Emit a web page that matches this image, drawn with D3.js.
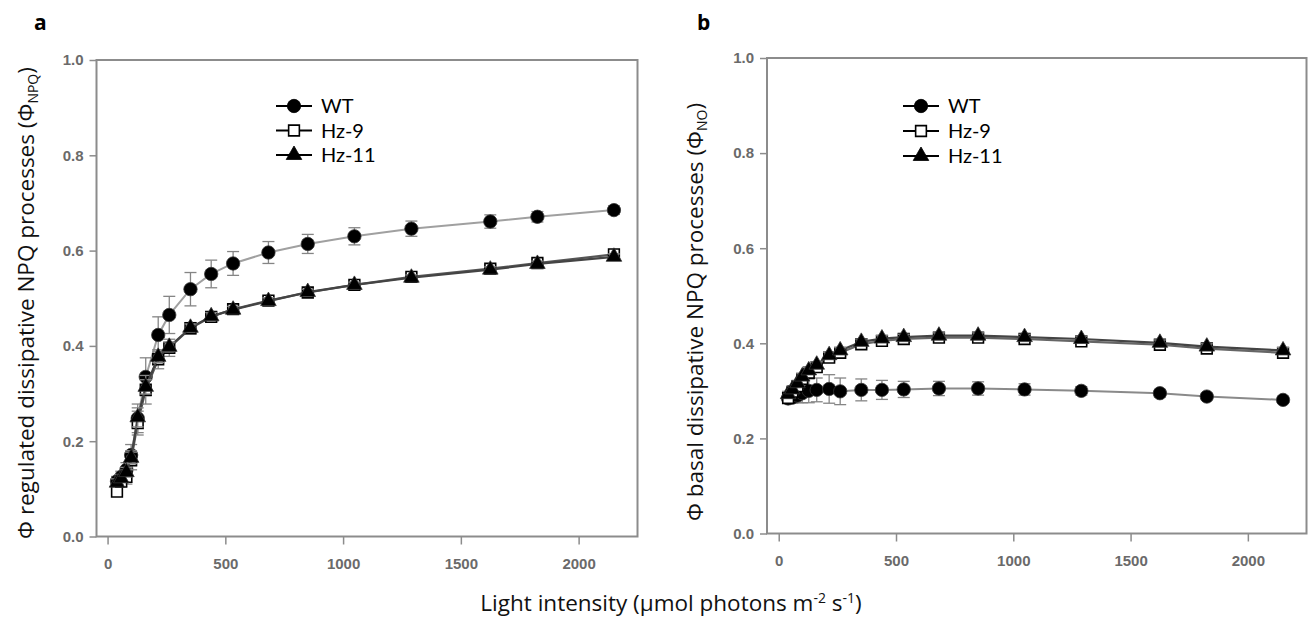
<!DOCTYPE html>
<html>
<head>
<meta charset="utf-8">
<script src="https://cdn.jsdelivr.net/npm/d3@7"></script>
<style>
  body { margin: 0; background: #fff; }
  .tick text { font-family: "Liberation Sans", Arial, sans-serif; font-size: 15px; font-weight: bold; fill: #6a6a6a; }
  .tick line { stroke: #8c8c8c; stroke-width: 1.5; }
  .domain { display: none; }
  .frame { fill: none; stroke: #8c8c8c; stroke-width: 2; }
  .title { font-family: "Open Sans", sans-serif; font-size: 22.5px; fill: #111; }
  .legend-text { font-family: Lato, "Open Sans", sans-serif; font-size: 20px; fill: #000; }
  .letter { font-family: "Open Sans", sans-serif; font-size: 21px; font-weight: bold; fill: #000; }
</style>
</head>
<body>
<svg id="chart" width="1310" height="620"></svg>
<script>
// light steps (µmol photons m-2 s-1), shared by both panels
const lightIntensity = [40, 58, 80, 100, 128, 162, 215, 262, 352, 440, 533, 683, 850, 1048, 1290, 1625, 1825, 2150];

// panel a: regulated NPQ yield
const wtNPQ      = [0.116, 0.125, 0.140, 0.171, 0.248, 0.335, 0.423, 0.465, 0.519, 0.551, 0.573, 0.596, 0.614, 0.630, 0.646, 0.661, 0.671, 0.685];
const wtNPQErr   = [0.010, 0.012, 0.015, 0.022, 0.030, 0.040, 0.038, 0.039, 0.035, 0.029, 0.025, 0.023, 0.020, 0.018, 0.016, 0.014, 0.011, 0.009];
const hz9NPQ     = [0.094, 0.115, 0.125, 0.160, 0.238, 0.308, 0.372, 0.396, 0.437, 0.461, 0.477, 0.495, 0.512, 0.528, 0.545, 0.562, 0.574, 0.592];
const hz9NPQErr  = [0.008, 0.010, 0.015, 0.020, 0.025, 0.030, 0.020, 0.018, 0.012, 0.010, 0.010, 0.009, 0.008, 0.008, 0.008, 0.008, 0.008, 0.008];
const hz11NPQ    = [0.113, 0.122, 0.135, 0.165, 0.250, 0.314, 0.377, 0.398, 0.438, 0.462, 0.476, 0.494, 0.513, 0.528, 0.543, 0.560, 0.572, 0.587];
const hz11NPQErr = [0.008, 0.008, 0.010, 0.012, 0.020, 0.015, 0.012, 0.010, 0.008, 0.008, 0.007, 0.007, 0.006, 0.006, 0.006, 0.006, 0.006, 0.006];

// panel b: basal (non-regulated) yield
const wtNO      = [0.284, 0.286, 0.290, 0.295, 0.300, 0.302, 0.304, 0.299, 0.302, 0.302, 0.303, 0.305, 0.305, 0.303, 0.300, 0.295, 0.288, 0.281];
const wtNOErr   = [0.010, 0.012, 0.015, 0.020, 0.025, 0.025, 0.030, 0.028, 0.023, 0.020, 0.017, 0.015, 0.014, 0.012, 0.009, 0.008, 0.007, 0.006];
const hz9NO     = [0.285, 0.298, 0.310, 0.325, 0.338, 0.350, 0.370, 0.380, 0.398, 0.405, 0.409, 0.412, 0.412, 0.409, 0.404, 0.397, 0.389, 0.380];
const hz9NOErr  = [0.007, 0.007, 0.007, 0.007, 0.007, 0.007, 0.007, 0.007, 0.007, 0.007, 0.007, 0.007, 0.007, 0.007, 0.007, 0.007, 0.007, 0.007];
const hz11NO    = [0.293, 0.303, 0.316, 0.330, 0.343, 0.355, 0.375, 0.385, 0.403, 0.410, 0.413, 0.416, 0.416, 0.413, 0.409, 0.401, 0.393, 0.385];
const hz11NOErr = [0.006, 0.006, 0.006, 0.006, 0.006, 0.006, 0.006, 0.006, 0.006, 0.006, 0.006, 0.006, 0.006, 0.006, 0.006, 0.006, 0.006, 0.006];

const seriesNames = ['WT', 'Hz-9', 'Hz-11'];
const xTicks = [0, 500, 1000, 1500, 2000];
const yTicks = [0, 0.2, 0.4, 0.6, 0.8, 1.0];

const svg = d3.select('#chart');

const symbolFor = {
    'WT':    d3.symbol().type(d3.symbolCircle).size(140),
    'Hz-9':  d3.symbol().type(d3.symbolSquare).size(115),
    'Hz-11': d3.symbol().type(d3.symbolTriangle).size(105)
};

const panels = [
    {
        letter: 'a', letterX: 34, letterY: 30,
        left: 96.5, right: 637.5, top: 60, bottom: 536.5, xMin: -47,
        titleX: 34, titleY: 303, titleText: 'Φ regulated dissipative NPQ processes (Φ', sub: 'NPQ',
        legendX: 294, legendTextX: 321, legendY: [106, 130.5, 155],
        series: [
            { name: 'WT', values: wtNPQ, errs: wtNPQErr, lineColor: '#a0a0a0', lineWidth: 2 },
            { name: 'Hz-9', values: hz9NPQ, errs: hz9NPQErr, lineColor: '#555', lineWidth: 2.2 },
            { name: 'Hz-11', values: hz11NPQ, errs: hz11NPQErr, lineColor: '#444', lineWidth: 2.2 }
        ]
    },
    {
        letter: 'b', letterX: 697, letterY: 30,
        left: 767, right: 1306.5, top: 58, bottom: 533.5, xMin: -50,
        titleX: 703, titleY: 312, titleText: 'Φ basal dissipative NPQ processes (Φ', sub: 'NO',
        legendX: 921, legendTextX: 948, legendY: [106, 131, 156],
        series: [
            { name: 'WT', values: wtNO, errs: wtNOErr, lineColor: '#8a8a8a', lineWidth: 2 },
            { name: 'Hz-9', values: hz9NO, errs: hz9NOErr, lineColor: '#666', lineWidth: 2.2 },
            { name: 'Hz-11', values: hz11NO, errs: hz11NOErr, lineColor: '#444', lineWidth: 2.2 }
        ]
    }
];

panels.forEach(p => drawPanel(p));

function drawPanel(p) {
    const x = d3.scaleLinear().domain([p.xMin, 2250]).range([p.left, p.right]);
    const y = d3.scaleLinear().domain([0, 1]).range([p.bottom, p.top]);
    const g = svg.append('g');

    g.append('g')
        .attr('transform', `translate(${p.left},0)`)
        .call(d3.axisLeft(y).tickValues(yTicks).tickFormat(d3.format('.1f')).tickSize(7).tickPadding(6));

    g.append('g')
        .attr('transform', `translate(0,${p.bottom})`)
        .call(d3.axisBottom(x).tickValues(xTicks).tickFormat(d3.format('d')).tickSize(8).tickPadding(14));

    g.append('rect')
        .classed('frame', true)
        .attr('x', p.left)
        .attr('y', p.top)
        .attr('width', p.right - p.left)
        .attr('height', p.bottom - p.top);

    // Series: line, error bars, symbols
    p.series.forEach(s => {
        const pts = lightIntensity.map((l, i) => ({ l, v: s.values[i], e: s.errs[i] }));

        g.append('path')
            .datum(pts)
            .attr('fill', 'none')
            .attr('stroke', s.lineColor)
            .attr('stroke-width', s.lineWidth)
            .attr('d', d3.line().x(d => x(d.l)).y(d => y(d.v)));

        const eb = g.append('g').attr('stroke', '#858585').attr('stroke-width', 1.3);
        pts.forEach(d => {
            const cx = x(d.l), y1 = y(d.v + d.e), y2 = y(d.v - d.e);
            eb.append('line').attr('x1', cx).attr('x2', cx).attr('y1', y1).attr('y2', y2);
            eb.append('line').attr('x1', cx - 6).attr('x2', cx + 6).attr('y1', y1).attr('y2', y1);
            eb.append('line').attr('x1', cx - 6).attr('x2', cx + 6).attr('y1', y2).attr('y2', y2);
        });

        g.selectAll(null)
            .data(pts)
            .enter().append('path')
            .attr('transform', d => `translate(${x(d.l)},${y(d.v)})`)
            .attr('d', symbolFor[s.name]())
            .attr('fill', s.name === 'Hz-9' ? '#fff' : '#000')
            .attr('stroke', s.name === 'Hz-9' ? '#000' : '#333')
            .attr('stroke-width', s.name === 'Hz-9' ? 1.6 : 0.8);
    });

    // Legend
    seriesNames.forEach((name, i) => {
        const ly = p.legendY[i];
        g.append('line')
            .attr('x1', p.legendX - 18).attr('x2', p.legendX + 18)
            .attr('y1', ly).attr('y2', ly)
            .attr('stroke', '#000').attr('stroke-width', 2);
        g.append('path')
            .attr('transform', `translate(${p.legendX},${ly})`)
            .attr('d', symbolFor[name]())
            .attr('fill', name === 'Hz-9' ? '#fff' : '#000')
            .attr('stroke', '#000')
            .attr('stroke-width', name === 'Hz-9' ? 1.6 : 0.8);
        g.append('text')
            .classed('legend-text', true)
            .attr('x', p.legendTextX)
            .attr('y', ly + 7)
            .text(name);
    });

    // Y title with subscript
    const t = g.append('text')
        .classed('title', true)
        .attr('text-anchor', 'middle')
        .attr('transform', `translate(${p.titleX},${p.titleY}) rotate(-90)`);
    t.append('tspan').text(p.titleText);
    t.append('tspan').attr('font-size', 14).attr('dy', 4).text(p.sub);
    t.append('tspan').attr('dy', -4).text(')');

    g.append('text')
        .classed('letter', true)
        .attr('x', p.letterX)
        .attr('y', p.letterY)
        .text(p.letter);
}

// Shared x title
const xt = svg.append('text')
    .classed('title', true)
    .attr('text-anchor', 'middle')
    .attr('x', 671)
    .attr('y', 611);
xt.append('tspan').text('Light intensity (µmol photons m');
xt.append('tspan').attr('font-size', 14).attr('dy', -8).text('-2');
xt.append('tspan').attr('dy', 8).text(' s');
xt.append('tspan').attr('font-size', 14).attr('dy', -8).text('-1');
xt.append('tspan').attr('dy', 8).text(')');
</script>
</body>
</html>
